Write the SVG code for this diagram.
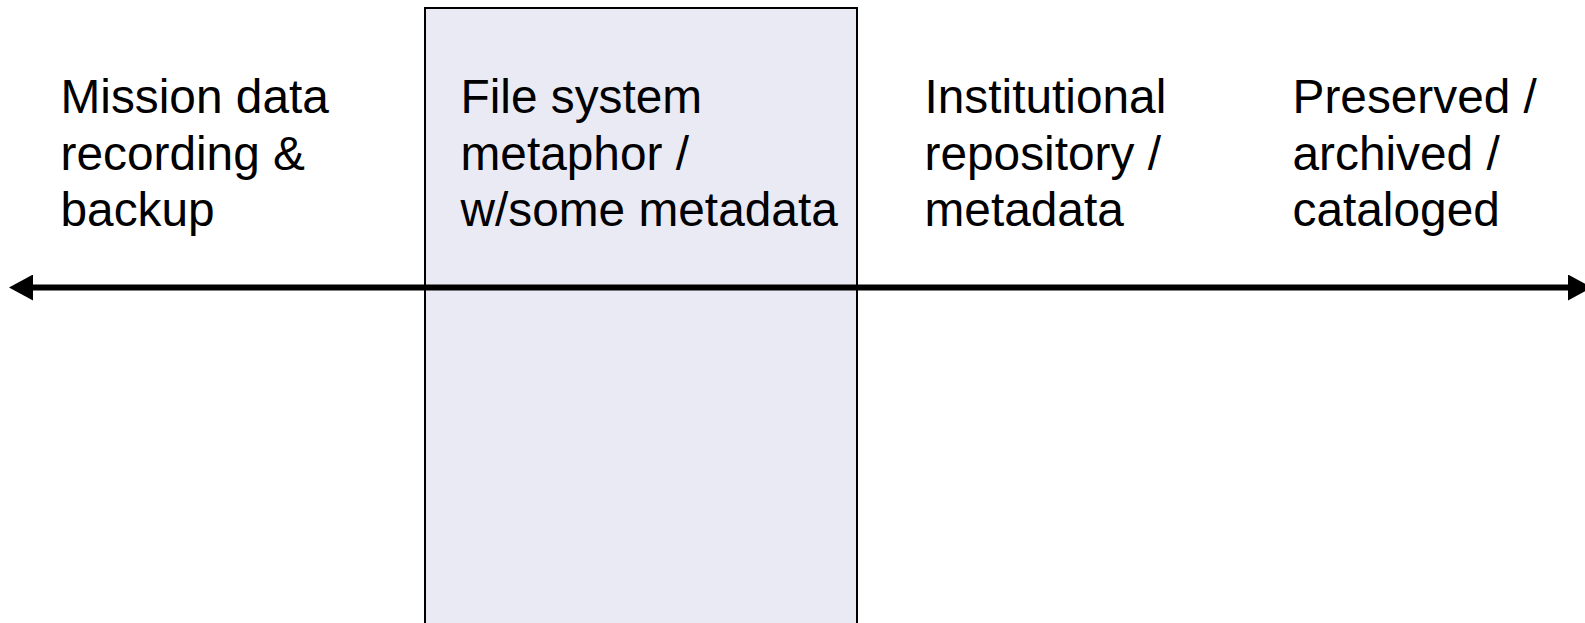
<svg xmlns="http://www.w3.org/2000/svg" width="1585" height="623" viewBox="0 0 1585 623">
  <style>
    .label { font-family: "Liberation Sans", Arial, sans-serif; font-size: 47.8px; fill: #000; }
    .band { fill: #EAEAF4; stroke: #000; stroke-width: 2; }
    .axis { stroke: #000; stroke-width: 6; fill: none; }
  </style>
  <defs>
    <marker id="head" markerUnits="userSpaceOnUse" viewBox="0 0 24 26" refX="0" refY="13" markerWidth="24" markerHeight="26" orient="auto-start-reverse">
      <path d="M0,0 L24,13 L0,26 Z" fill="#000"/>
    </marker>
  </defs>

  <rect width="1585" height="623" fill="#fff"/>

  <!-- highlighted stage band -->
  <g id="band">
    <rect class="band" x="425" y="8" width="432" height="630"/>
  </g>

  <g id="stage-mission">
    <text class="label" x="60.5" y="113">Mission data</text>
    <text class="label" x="60.5" y="170">recording &amp;</text>
    <text class="label" x="60.5" y="226">backup</text>
  </g>

  <g id="stage-filesystem">
    <text class="label" x="460.5" y="113">File system</text>
    <text class="label" x="460.5" y="170">metaphor /</text>
    <text class="label" x="460.5" y="226">w/some metadata</text>
  </g>

  <g id="stage-repository">
    <text class="label" x="924.5" y="113">Institutional</text>
    <text class="label" x="924.5" y="170">repository /</text>
    <text class="label" x="924.5" y="226">metadata</text>
  </g>

  <g id="stage-preserved">
    <text class="label" x="1292.5" y="113">Preserved /</text>
    <text class="label" x="1292.5" y="170">archived /</text>
    <text class="label" x="1292.5" y="226">cataloged</text>
  </g>

  <!-- double-headed timeline axis -->
  <g id="connectors">
    <line class="axis" x1="33" y1="287.5" x2="1568" y2="287.5" marker-start="url(#head)" marker-end="url(#head)"/>
  </g>
</svg>
